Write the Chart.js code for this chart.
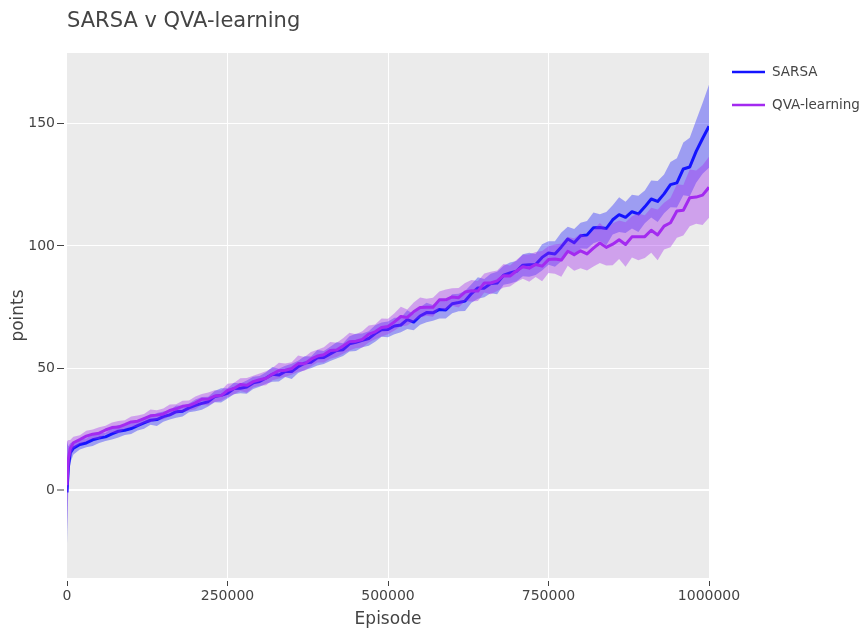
<!DOCTYPE html>
<html>
<head>
<meta charset="utf-8">
<script src="https://cdn.jsdelivr.net/npm/chart.js@4.4.1/dist/chart.umd.min.js"></script>
<style>
  html, body { margin: 0; padding: 0; background: #ffffff; }
  #wrap { width: 868px; height: 634px; position: relative; }
</style>
</head>
<body>
<div id="wrap"><canvas id="chart"></canvas></div>
<script>
// Training curves: mean score per episode with a shaded spread band.
const TITLE = 'SARSA v QVA-learning';
const X_LABEL = 'Episode';
const Y_LABEL = 'points';
const SERIES_NAMES = ['SARSA', 'QVA-learning'];
const X_TICKS = [0, 250000, 500000, 750000, 1000000];
const Y_TICKS = [0, 50, 100, 150];

const EPISODES = [
  0, 2000, 5000, 10000,
  20000, 30000, 40000, 50000, 60000, 70000, 80000, 90000, 100000,
  110000, 120000, 130000, 140000, 150000, 160000, 170000, 180000, 190000, 200000,
  210000, 220000, 230000, 240000, 250000, 260000, 270000, 280000, 290000, 300000,
  310000, 320000, 330000, 340000, 350000, 360000, 370000, 380000, 390000, 400000,
  410000, 420000, 430000, 440000, 450000, 460000, 470000, 480000, 490000, 500000,
  510000, 520000, 530000, 540000, 550000, 560000, 570000, 580000, 590000, 600000,
  610000, 620000, 630000, 640000, 650000, 660000, 670000, 680000, 690000, 700000,
  710000, 720000, 730000, 740000, 750000, 760000, 770000, 780000, 790000, 800000,
  810000, 820000, 830000, 840000, 850000, 860000, 870000, 880000, 890000, 900000,
  910000, 920000, 930000, 940000, 950000, 960000, 970000, 980000, 990000, 1000000
];

const SARSA_MEAN = [
  -1.0, 9.0, 15.2, 17.2,
  18.7, 19.3, 20.6, 21.3, 21.8, 23.0, 24.1, 24.5, 25.2,
  26.4, 27.5, 28.6, 28.9, 30.1, 30.8, 32.1, 32.3, 33.7, 34.7,
  35.5, 36.2, 38.3, 38.8, 39.6, 41.6, 41.7, 42.2, 43.9, 44.5,
  45.9, 47.4, 47.1, 48.6, 48.6, 50.5, 52.0, 52.3, 54.2, 54.3,
  55.8, 57.2, 57.5, 59.9, 60.5, 61.3, 62.1, 64.1, 65.7, 65.8,
  67.2, 67.6, 69.8, 68.8, 71.3, 72.7, 72.6, 74.0, 73.8, 76.3,
  76.8, 77.4, 80.5, 82.8, 82.7, 84.6, 84.8, 88.0, 88.9, 89.6,
  92.1, 92.3, 92.4, 95.3, 97.1, 96.7, 99.6, 102.8, 101.3, 104.2,
  104.5, 107.4, 107.5, 107.1, 110.7, 112.8, 111.7, 114.0, 113.1, 116.0,
  119.2, 118.2, 121.3, 125.1, 125.8, 131.5, 132.3, 138.7, 144.0, 149.0
];

const SARSA_SPREAD = [
  21, 9, 4, 2.6,
  2.1, 1.8, 2.5, 2.0, 1.7, 2.3, 2.6, 1.9, 2.2,
  2.0, 2.4, 1.8, 2.7, 2.1, 1.9, 2.5, 2.2, 1.8, 2.4,
  2.6, 2.0, 2.3, 2.9, 2.1, 2.4, 2.0, 2.7, 2.5, 2.2,
  2.4, 3.0, 2.6, 2.3, 3.1, 2.5, 2.8, 2.4, 3.2, 2.7,
  2.9, 3.3, 2.6, 3.1, 3.5, 2.8, 3.0, 3.4, 2.9, 3.2,
  3.4, 3.0, 3.8, 3.3, 3.6, 4.0, 3.2, 3.7, 3.5, 3.9,
  3.6, 4.1, 3.8, 4.4, 3.7, 4.0, 4.6, 3.9, 4.3, 4.2,
  4.5, 4.9, 4.3, 5.4, 4.8, 5.2, 5.9, 5.0, 5.6, 5.3,
  5.7, 6.3, 5.5, 6.8, 6.0, 7.1, 6.4, 6.9, 7.4, 6.7,
  7.6, 8.4, 7.9, 9.3, 10.1, 10.8, 12.0, 12.8, 14.5, 17.0
];

const QVA_MEAN = [
  2.0, 12.5, 17.0, 19.4,
  20.7, 22.1, 22.9, 23.3, 24.6, 25.6, 25.8, 26.8, 27.9,
  28.2, 29.3, 30.4, 30.7, 31.2, 32.6, 33.3, 34.3, 34.6, 35.7,
  37.2, 37.3, 38.5, 38.7, 40.8, 41.6, 43.2, 42.9, 44.4, 45.2,
  45.8, 47.5, 48.9, 49.1, 49.8, 51.8, 51.7, 53.6, 54.9, 55.4,
  57.2, 57.4, 59.0, 60.8, 61.0, 61.7, 63.9, 64.8, 66.6, 67.0,
  68.9, 71.1, 70.7, 73.0, 74.8, 74.9, 74.9, 77.9, 77.9, 79.1,
  78.8, 81.1, 81.6, 81.5, 84.8, 84.8, 85.7, 87.8, 87.7, 89.7,
  91.5, 90.9, 92.4, 91.7, 94.4, 94.6, 94.2, 97.8, 96.4, 98.0,
  96.7, 99.1, 101.2, 99.4, 100.7, 102.5, 100.6, 103.7, 103.7, 103.8,
  106.4, 104.5, 108.1, 109.5, 114.3, 114.6, 119.7, 120.0, 120.8, 124.0
];

const QVA_SPREAD = [
  18, 8, 3.5, 2.4,
  1.8, 2.2, 1.9, 2.4, 1.7, 2.1, 2.5, 1.8, 2.2,
  2.3, 1.9, 2.6, 2.0, 2.2, 2.5, 1.9, 2.3, 2.1, 2.6,
  2.2, 2.7, 2.4, 2.1, 2.8, 2.3, 2.6, 3.0, 2.4, 2.5,
  2.9, 2.5, 3.2, 2.7, 2.6, 3.3, 2.8, 3.0, 2.6, 3.1,
  3.4, 2.9, 3.2, 3.6, 2.8, 3.3, 3.5, 3.0, 3.7, 3.2,
  3.5, 4.0, 3.3, 3.8, 4.1, 3.5, 3.9, 3.4, 4.2, 3.6,
  4.0, 3.7, 4.4, 4.1, 3.9, 4.6, 4.2, 4.8, 4.3, 4.5,
  4.9, 5.6, 5.1, 6.2, 5.5, 6.0, 6.8, 5.9, 6.6, 7.1,
  6.8, 7.5, 8.2, 7.4, 8.6, 7.9, 9.1, 8.4, 9.6, 8.8,
  9.2, 10.4, 9.6, 10.1, 11.0, 10.3, 11.6, 10.9, 12.2, 12.5
];

const LINE_COLORS = ['#1414ff', '#a32af0'];
const BAND_COLORS = ['rgba(20, 20, 255, 0.36)', 'rgba(163, 42, 240, 0.38)'];
const FONT = "'DejaVu Sans', Verdana, sans-serif";
const TEXT = '#444444';

function pts(values) {
  return EPISODES.map((e, i) => ({ x: e, y: values[i] }));
}
function band(mean, spread, sign) {
  return EPISODES.map((e, i) => ({ x: e, y: mean[i] + sign * spread[i] }));
}

function seriesSets(k, mean, spread, baseOrder) {
  return [
    { label: SERIES_NAMES[k] + ' lower', data: band(mean, spread, -1),
      borderWidth: 0, pointRadius: 0, fill: false, order: baseOrder + 2 },
    { label: SERIES_NAMES[k] + ' upper', data: band(mean, spread, 1),
      borderWidth: 0, pointRadius: 0, fill: '-1', backgroundColor: BAND_COLORS[k],
      order: baseOrder + 1 },
    { label: SERIES_NAMES[k], data: pts(mean), borderColor: LINE_COLORS[k],
      borderWidth: 3, pointRadius: 0, fill: false, order: baseOrder,
      borderJoinStyle: 'round' }
  ];
}

const decor = {
  id: 'decor',
  beforeDraw(chart) {
    const { ctx, chartArea: a } = chart;
    ctx.save();
    ctx.fillStyle = '#ebebeb';
    ctx.fillRect(a.left, a.top, a.right - a.left, a.bottom - a.top);
    ctx.restore();
  },
  afterDraw(chart) {
    const { ctx, chartArea: a } = chart;
    ctx.save();
    ctx.fillStyle = TEXT;
    // title
    ctx.font = '21px ' + FONT;
    ctx.textAlign = 'left';
    ctx.textBaseline = 'alphabetic';
    ctx.fillText(TITLE, 67, 27);
    // x axis title
    ctx.font = '17px ' + FONT;
    ctx.textAlign = 'center';
    ctx.textBaseline = 'middle';
    ctx.fillText(X_LABEL, (a.left + a.right) / 2, 620);
    // y axis title
    ctx.save();
    ctx.translate(19, (a.top + a.bottom) / 2);
    ctx.rotate(-Math.PI / 2);
    ctx.fillText(Y_LABEL, 0, 0);
    ctx.restore();
    // legend
    ctx.font = '13.5px ' + FONT;
    ctx.textAlign = 'left';
    const rows = [72, 105];
    SERIES_NAMES.forEach((name, k) => {
      const y = rows[k];
      ctx.strokeStyle = LINE_COLORS[k];
      ctx.lineWidth = 2.5;
      ctx.beginPath();
      ctx.moveTo(732, y);
      ctx.lineTo(765, y);
      ctx.stroke();
      ctx.fillStyle = TEXT;
      ctx.fillText(name, 772, y);
    });
    ctx.restore();
  }
};

new Chart(document.getElementById('chart'), {
  type: 'line',
  data: {
    datasets: [
      ...seriesSets(0, SARSA_MEAN, SARSA_SPREAD, 4),
      ...seriesSets(1, QVA_MEAN, QVA_SPREAD, 1)
    ]
  },
  options: {
    responsive: true,
    maintainAspectRatio: false,
    animation: false,
    layout: { padding: { left: 0, top: 53, right: 159, bottom: 0 } },
    plugins: { legend: { display: false }, tooltip: { enabled: false }, title: { display: false } },
    elements: { line: { tension: 0 } },
    scales: {
      x: {
        type: 'linear', min: 0, max: 1000000,
        afterFit(s) { s.height = 56; },
        afterBuildTicks(s) { s.ticks = X_TICKS.map(v => ({ value: v })); },
        border: { display: false },
        grid: {
          color: (c) => (c.tick && (c.tick.value === 0 || c.tick.value === 1000000)) ? 'rgba(0,0,0,0)' : '#ffffff',
          lineWidth: 1,
          drawTicks: true, tickLength: 8, tickColor: TEXT, tickWidth: 1,
          tickBorderDash: [0, 3, 5, 100]
        },
        ticks: {
          color: TEXT, font: { family: FONT, size: 14 }, padding: 2,
          maxRotation: 0, autoSkip: false,
          callback: (v) => String(v)
        }
      },
      y: {
        type: 'linear', min: -36, max: 179,
        afterFit(s) { s.width = 67; },
        afterBuildTicks(s) { s.ticks = Y_TICKS.map(v => ({ value: v })); },
        border: { display: false },
        grid: {
          color: '#ffffff',
          lineWidth: (c) => (c.tick && c.tick.value === 0) ? 2 : 1,
          drawTicks: true, tickLength: 10, tickColor: TEXT, tickWidth: 1,
          tickBorderDash: [7, 100]
        },
        ticks: {
          color: TEXT, font: { family: FONT, size: 14 }, padding: 2,
          callback: (v) => String(v)
        }
      }
    }
  },
  plugins: [decor]
});
</script>
</body>
</html>
